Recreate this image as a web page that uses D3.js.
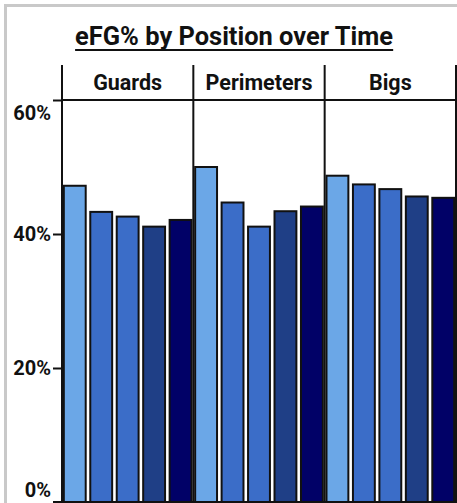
<!DOCTYPE html>
<html>
<head>
<meta charset="utf-8">
<script src="https://cdn.jsdelivr.net/npm/d3@7"></script>
<style>
  html, body { margin: 0; padding: 0; background: #fff; overflow: hidden; }
  svg { display: block; font-family: Roboto, "Noto Sans", sans-serif; }
</style>
</head>
<body>
<svg id="chart" width="457" height="503"></svg>
<script>
// ---- data ----
const title = "eFG% by Position over Time";
const positions = ["Guards", "Perimeters", "Bigs"];
const periods = ["P1", "P2", "P3", "P4", "P5"];
const guards     = [0.472, 0.433, 0.426, 0.411, 0.421];
const perimeters = [0.500, 0.447, 0.411, 0.434, 0.441];
const bigs       = [0.487, 0.474, 0.467, 0.456, 0.454];
const periodColors = ["#6ba7e7", "#3b6dc8", "#3b6dc8", "#1f3f86", "#010167"];
const yTicks = [0, 0.2, 0.4, 0.6];

const seriesByPosition = { Guards: guards, Perimeters: perimeters, Bigs: bigs };

// ---- layout ----
const svg = d3.select("#chart");
const W = 457, H = 503;
const plotLeft = 62, plotRight = 456, plotTop = 100, plotBottom = 502, headerTop = 65;

// frame (cropped border of the original figure)
svg.append("path")
  .attr("d", `M5.5,${H + 10} L5.5,5.5 L${W + 10},5.5`)
  .attr("fill", "none").attr("stroke", "#c9c9c9").attr("stroke-width", 3);

// title (fit to the original's rendered width)
const t = svg.append("text")
  .attr("x", 234).attr("y", 45)
  .attr("text-anchor", "middle")
  .attr("font-size", 22).attr("font-weight", 700)
  .attr("fill", "#111")
  .text(title);
const tLen = t.node().getComputedTextLength();
t.attr("font-size", 22 * 318 / tLen);
const tb = t.node().getBBox();
svg.append("line")
  .attr("x1", tb.x).attr("x2", tb.x + tb.width)
  .attr("y1", 50).attr("y2", 50)
  .attr("stroke", "#111").attr("stroke-width", 2);

// scales
const fx = d3.scaleBand().domain(positions).range([plotLeft, plotRight]).padding(0);
const x = d3.scaleBand().domain(periods).range([0, fx.bandwidth()])
  .paddingInner(0.135).paddingOuter(0.05);
const y = d3.scaleLinear().domain([0, 0.6]).range([plotBottom, plotTop]);
const color = d3.scaleOrdinal().domain(periods).range(periodColors);

// bars
const panels = svg.selectAll("g.panel").data(positions).join("g")
  .attr("class", "panel")
  .attr("transform", d => `translate(${fx(d)},0)`);

panels.selectAll("rect").data(p => seriesByPosition[p].map((v, i) => ({ period: periods[i], value: v })))
  .join("rect")
  .attr("x", d => x(d.period) + 0.5)
  .attr("y", d => y(d.value))
  .attr("width", x.bandwidth() - 1)
  .attr("height", d => y(0) - y(d.value) + 5)
  .attr("fill", d => color(d.period))
  .attr("stroke", "#111")
  .attr("stroke-width", 2);

// facet labels
const facetTargets = { Guards: 69, Perimeters: 114, Bigs: 41 };
const labels = panels.append("text")
  .attr("x", fx.bandwidth() / 2).attr("y", 90)
  .attr("text-anchor", "middle")
  .attr("font-size", 19).attr("font-weight", 700)
  .attr("fill", "#111")
  .text(d => d);
const ratios = labels.nodes().map((n, i) => facetTargets[positions[i]] / n.getComputedTextLength());
const facetSize = 19 * d3.median(ratios);
labels.attr("font-size", facetSize);

// facet borders
const borders = [...positions.map(p => fx(p)), plotRight];
svg.selectAll("line.border").data(borders).join("line")
  .attr("class", "border")
  .attr("x1", d => d).attr("x2", d => d)
  .attr("y1", headerTop).attr("y2", H + 5)
  .attr("stroke", "#111").attr("stroke-width", 2);

// header bottom line
svg.append("line")
  .attr("x1", plotLeft).attr("x2", W + 5)
  .attr("y1", plotTop).attr("y2", plotTop)
  .attr("stroke", "#111").attr("stroke-width", 2);

// baseline
svg.append("line")
  .attr("x1", 53).attr("x2", W + 5)
  .attr("y1", plotBottom).attr("y2", plotBottom)
  .attr("stroke", "#111").attr("stroke-width", 2);

// y axis
const yAxis = svg.append("g")
  .attr("transform", `translate(${plotLeft},0)`)
  .call(d3.axisLeft(y).tickValues(yTicks).tickFormat(d3.format(".0%")).tickSize(9).tickPadding(2));
yAxis.select(".domain").remove();
yAxis.selectAll(".tick line").attr("stroke", "#111").attr("stroke-width", 2);
yAxis.selectAll(".tick text")
  .attr("font-family", "Roboto, sans-serif")
  .attr("font-size", 20).attr("font-weight", 700).attr("fill", "#111")
  .attr("dy", d => d === 0.6 ? "0.95em" : d === 0 ? "-0.3em" : "0.32em");
</script>
</body>
</html>
